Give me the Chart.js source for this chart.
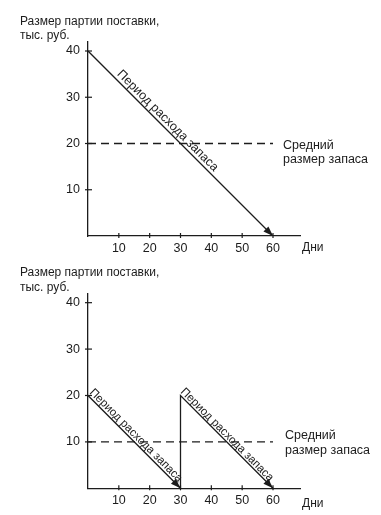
<!DOCTYPE html>
<html>
<head>
<meta charset="utf-8">
<script src="https://cdn.jsdelivr.net/npm/chart.js@4"></script>
<style>
  html, body { margin: 0; padding: 0; background: #fff; }
  #wrap { position: relative; width: 381px; height: 515px; }
  canvas { position: absolute; left: 0; }
</style>
</head>
<body>
<div id="wrap">
  <canvas id="topChart" width="381" height="255" style="top:0"></canvas>
  <canvas id="bottomChart" width="381" height="260" style="top:255px"></canvas>
</div>
<script>
// data
const yTicks = [10, 20, 30, 40];
const xTicks = [10, 20, 30, 40, 50, 60];

const topDays = [0, 60];
const topStock = [40, 0];
const topAvgDays = [0, 60];
const topAvg = [20, 20];

const bottomDays = [0, 30, 30, 60];
const bottomStock = [20, 0, 20, 0];
const bottomAvgDays = [0, 60];
const bottomAvg = [10, 10];

const yTitle = ['Размер партии поставки,', 'тыс. руб.'];
const xTitle = 'Дни';
const avgLabel = ['Средний', 'размер запаса'];
const lineLabel = 'Период расхода запаса';

const FONT = '"Liberation Sans", Arial, sans-serif';
const INK = '#1c1c1c';

const toPoints = (xs, ys) => xs.map((x, i) => ({ x, y: ys[i] }));

// extra drawing: crossing ticks, titles, rotated labels, arrowheads
const decor = {
  id: 'decor',
  afterDraw(chart, args, o) {
    const ctx = chart.ctx;
    const xs = chart.scales.x, ys = chart.scales.y;
    ctx.save();
    ctx.strokeStyle = INK;
    ctx.lineWidth = 1.2;
    ys.ticks.forEach(t => {
      const py = ys.getPixelForValue(t.value);
      ctx.beginPath(); ctx.moveTo(xs.left - 3, py); ctx.lineTo(xs.left + 4, py); ctx.stroke();
    });
    xs.ticks.forEach(t => {
      const px = xs.getPixelForValue(t.value);
      ctx.beginPath(); ctx.moveTo(px, ys.bottom - 3); ctx.lineTo(px, ys.bottom + 2); ctx.stroke();
    });

    ctx.fillStyle = INK;
    ctx.font = '12px ' + FONT;
    ctx.textAlign = 'left';
    ctx.textBaseline = 'middle';
    yTitle.forEach((s, i) => ctx.fillText(s, o.titleX, o.titleY + i * o.gap));
    ctx.fillText(xTitle, o.xTitleX, ys.bottom + o.xTitleDy);

    ctx.font = '12.5px ' + FONT;
    const avgPy = ys.getPixelForValue(o.avgValue);
    avgLabel.forEach((s, i) => ctx.fillText(s, o.avgX, avgPy + o.avgDy + i * o.gap));

    // rotated labels along the consumption lines
    ctx.font = o.labelSize + 'px ' + FONT;
    o.labels.forEach(([ds, i, t, perp]) => {
      const pts = chart.getDatasetMeta(ds).data;
      const a = pts[i], b = pts[i + 1];
      const ang = Math.atan2(b.y - a.y, b.x - a.x);
      ctx.save();
      ctx.translate(a.x + (b.x - a.x) * t, a.y + (b.y - a.y) * t);
      ctx.rotate(ang);
      ctx.textAlign = 'center';
      ctx.textBaseline = 'alphabetic';
      ctx.fillText(lineLabel, 0, -perp);
      ctx.restore();
    });

    // arrowheads
    o.arrows.forEach(([ds, i]) => {
      const pts = chart.getDatasetMeta(ds).data;
      const a = pts[i], b = pts[i + 1];
      const ang = Math.atan2(b.y - a.y, b.x - a.x);
      ctx.save();
      ctx.translate(b.x, b.y);
      ctx.rotate(ang);
      ctx.beginPath();
      ctx.moveTo(0, 0);
      ctx.lineTo(-10, -3.5);
      ctx.lineTo(-10, 3.5);
      ctx.closePath();
      ctx.fill();
      ctx.restore();
    });
    ctx.restore();
  }
};

function makeChart(id, datasets, pad, xHeight, decorOpts) {
  return new Chart(document.getElementById(id), {
    type: 'line',
    data: { datasets },
    options: {
      responsive: false,
      animation: false,
      devicePixelRatio: 1,
      layout: { padding: pad },
      plugins: { legend: { display: false }, tooltip: { enabled: false }, decor: decorOpts },
      elements: { point: { radius: 0 }, line: { tension: 0 } },
      scales: {
        x: {
          type: 'linear', min: 0, max: 69,
          afterBuildTicks: s => { s.ticks = xTicks.map(v => ({ value: v })); },
          afterFit: s => { s.height = xHeight; },
          grid: { display: true, drawOnChartArea: false, drawTicks: false },
          border: { display: true, color: INK, width: 1.3 },
          ticks: { color: INK, font: { family: FONT, size: 12.5 }, padding: 5, maxRotation: 0, autoSkip: false }
        },
        y: {
          type: 'linear', min: 0, max: 42,
          afterBuildTicks: s => { s.ticks = yTicks.map(v => ({ value: v })); },
          afterFit: s => { s.width = 88; },
          grid: { display: true, drawOnChartArea: false, drawTicks: false },
          border: { display: true, color: INK, width: 1.3 },
          ticks: { color: INK, font: { family: FONT, size: 12.5 }, padding: 8 }
        }
      }
    },
    plugins: [decor]
  });
}

const lineStyle = { borderColor: INK, borderWidth: 1.3, fill: false };
const dashStyle = { borderColor: INK, borderWidth: 1.3, borderDash: [8, 5], fill: false };

makeChart('topChart', [
  { data: toPoints(topDays, topStock), ...lineStyle },
  { data: toPoints(topAvgDays, topAvg), ...dashStyle }
], { top: 41.75, right: 80.25, left: 0, bottom: 0 }, 19, {
  titleX: 20, titleY: 22, gap: 14, xTitleX: 302, xTitleDy: 12,
  avgValue: 20, avgX: 283, avgDy: 2.5,
  labelSize: 12.5,
  labels: [[0, 0, 0.404, 3.5]],
  arrows: [[0, 0]]
});

makeChart('bottomChart', [
  { data: toPoints(bottomDays, bottomStock), ...lineStyle },
  { data: toPoints(bottomAvgDays, bottomAvg), ...dashStyle }
], { top: 38.4, right: 80.25, left: 0, bottom: 0 }, 26.7, {
  titleX: 20, titleY: 18, gap: 15, xTitleX: 302, xTitleDy: 15,
  avgValue: 10, avgX: 285, avgDy: -6.7,
  labelSize: 11.5,
  labels: [[0, 0, 0.475, 2.5], [0, 2, 0.463, 2]],
  arrows: [[0, 0], [0, 2]]
});
</script>
</body>
</html>
